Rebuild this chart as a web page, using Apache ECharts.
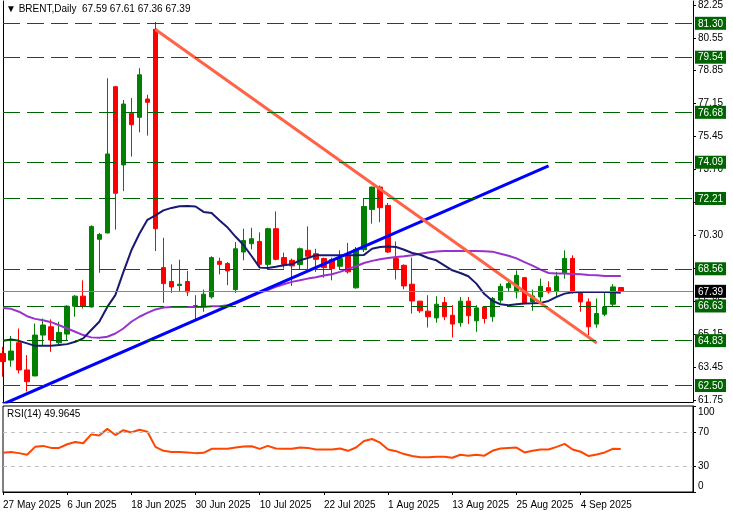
<!DOCTYPE html>
<html><head><meta charset="utf-8">
<script src="https://cdn.jsdelivr.net/npm/echarts@6/dist/echarts.min.js"></script>
<style>html,body{margin:0;padding:0;background:#fff}#c{width:733px;height:514px}</style>
</head><body><div id="c"></div>
<script>
const dates = ['27 May 2025','28 May 2025','29 May 2025','30 May 2025',
'2 Jun 2025','3 Jun 2025','4 Jun 2025','5 Jun 2025','6 Jun 2025','9 Jun 2025','10 Jun 2025','11 Jun 2025','12 Jun 2025','13 Jun 2025','16 Jun 2025','17 Jun 2025','18 Jun 2025','19 Jun 2025','20 Jun 2025','23 Jun 2025','24 Jun 2025','25 Jun 2025','26 Jun 2025','27 Jun 2025','30 Jun 2025',
'1 Jul 2025','2 Jul 2025','3 Jul 2025','4 Jul 2025','7 Jul 2025','8 Jul 2025','9 Jul 2025','10 Jul 2025','11 Jul 2025','14 Jul 2025','15 Jul 2025','16 Jul 2025','17 Jul 2025','18 Jul 2025','21 Jul 2025','22 Jul 2025','23 Jul 2025','24 Jul 2025','25 Jul 2025','28 Jul 2025','29 Jul 2025','30 Jul 2025','31 Jul 2025',
'1 Aug 2025','4 Aug 2025','5 Aug 2025','6 Aug 2025','7 Aug 2025','8 Aug 2025','11 Aug 2025','12 Aug 2025','13 Aug 2025','14 Aug 2025','15 Aug 2025','18 Aug 2025','19 Aug 2025','20 Aug 2025','21 Aug 2025','22 Aug 2025','25 Aug 2025','26 Aug 2025','27 Aug 2025','28 Aug 2025','29 Aug 2025',
'1 Sep 2025','2 Sep 2025','3 Sep 2025','4 Sep 2025','5 Sep 2025','8 Sep 2025','9 Sep 2025','10 Sep 2025','11 Sep 2025'];

const opens = [64.17,63.82,64.72,63.31,63.00,65.12,65.55,64.72,65.17,66.62,
67.14,66.58,70.09,70.42,78.01,73.95,76.63,76.42,77.37,80.99,
68.62,67.90,67.69,67.90,66.58,66.58,67.10,68.95,68.83,67.48,
69.43,69.86,69.98,68.79,70.64,69.14,69.00,68.78,69.52,69.34,
69.09,69.03,68.69,69.21,67.57,69.55,71.64,72.80,71.85,69.09,
68.74,67.76,66.88,66.36,66.01,66.81,66.15,65.76,66.88,65.86,
66.58,66.07,66.93,67.57,67.36,68.10,66.84,67.10,67.58,67.39,
68.31,69.10,67.36,66.84,65.69,66.20,66.72,67.59];
const closes = [63.74,64.29,63.31,62.70,65.12,65.64,64.86,65.26,66.62,67.14,
66.62,70.76,70.34,74.52,72.48,77.11,76.04,78.63,77.20,70.64,
67.79,67.62,67.76,67.36,66.65,67.24,69.14,68.79,68.45,69.60,
70.03,70.12,68.79,70.64,69.05,68.79,68.71,69.60,69.21,69.05,
68.62,68.57,69.09,68.40,69.57,71.79,72.80,71.73,69.43,68.57,
67.67,66.89,66.38,66.07,66.72,66.07,65.69,66.88,66.12,66.53,
65.98,67.02,67.65,67.79,68.22,66.79,67.15,67.65,67.36,68.17,
69.10,67.36,66.84,65.55,66.24,66.58,67.62,67.39];
const highs = [64.51,65.07,65.46,64.08,65.72,65.98,65.93,65.81,66.67,67.19,
67.96,70.81,70.42,78.45,78.05,77.32,77.42,78.97,77.59,81.37,
70.17,68.79,69.03,68.45,67.19,67.48,69.21,69.14,68.91,69.95,
70.64,70.69,70.45,70.69,71.54,69.40,69.09,69.66,70.76,69.60,
69.14,69.14,69.52,69.90,69.69,72.19,72.83,72.88,71.98,69.98,
68.79,69.14,66.90,67.19,67.14,67.10,66.67,67.10,67.10,66.67,
66.60,67.10,67.79,67.88,68.48,68.14,67.48,68.05,67.91,68.40,
69.52,69.26,67.38,67.02,67.02,67.36,67.76,67.61];
const lows = [62.96,63.48,63.13,62.19,62.98,64.60,64.25,64.60,64.86,66.07,
66.50,66.55,68.35,70.40,70.59,72.59,74.38,75.64,75.47,69.48,
66.79,67.31,67.36,67.14,65.93,66.33,67.01,68.27,67.71,67.31,
69.00,69.57,68.65,68.52,69.00,68.57,67.67,68.53,68.53,68.40,
68.10,67.96,68.52,68.31,67.53,69.43,70.90,70.98,69.38,68.00,
67.50,66.24,66.27,65.51,65.76,65.89,65.00,65.55,65.69,65.29,
65.72,65.81,66.79,67.36,67.02,66.72,66.38,66.84,67.27,67.10,
68.05,67.27,66.33,65.12,65.50,66.10,66.58,67.36];
const maFast = [64.82,64.89,64.82,64.69,64.56,64.56,64.56,64.60,64.65,64.77,
64.95,65.38,65.81,66.58,67.19,68.39,69.52,70.38,71.10,71.33,
71.59,71.72,71.80,71.82,71.79,71.51,71.45,71.07,70.70,70.22,
69.78,69.21,68.62,68.60,68.66,68.74,68.79,69.00,69.12,69.26,
69.26,69.26,69.26,69.26,69.26,69.28,69.60,69.69,69.72,69.69,
69.55,69.38,69.29,69.12,69.00,68.74,68.48,68.34,68.17,67.79,
67.25,66.90,66.72,66.67,66.72,66.76,66.77,66.79,66.89,67.10,
67.27,67.34,67.36,67.36,67.36,67.36,67.34,67.31];
const maSlow = [66.53,66.48,66.33,66.10,65.96,65.89,65.79,65.63,65.46,65.29,
65.12,65.00,64.98,65.03,65.20,65.46,65.81,66.07,66.27,66.45,
66.55,66.58,66.58,66.58,66.58,66.58,66.62,66.62,66.67,66.76,
66.93,67.13,67.31,67.45,67.62,67.76,67.88,67.96,68.05,68.12,
68.21,68.28,68.40,68.55,68.69,68.86,68.97,69.05,69.12,69.17,
69.21,69.26,69.34,69.41,69.46,69.48,69.48,69.48,69.48,69.48,
69.47,69.45,69.34,69.24,69.10,68.91,68.72,68.52,68.34,68.31,
68.31,68.29,68.27,68.24,68.22,68.19,68.19,68.19];
const rsi = [45.6,46.4,45.2,43.3,52.5,53.6,51.3,51.3,55.5,58.2,
56.7,67.0,65.8,73.4,66.2,71.9,69.2,72.3,70.0,52.5,
47.9,46.4,46.4,46.0,45.2,45.6,50.2,50.2,50.2,51.7,
52.9,53.2,50.2,53.6,50.6,50.2,50.2,51.7,51.3,49.4,
49.4,49.4,50.6,47.9,51.7,59.3,61.6,57.4,49.4,47.5,
44.1,41.8,40.3,40.3,41.0,41.0,39.9,43.3,42.2,43.3,
42.2,47.9,50.6,51.3,51.7,46.0,47.9,49.4,49.4,52.5,
55.9,49.4,46.8,41.8,43.7,46.0,50.2,49.9645];
const levels = [81.30,79.54,76.68,74.09,72.21,68.56,66.63,64.83,62.50];
const priceTicks = [82.25,80.55,78.85,77.15,75.45,73.70,72.00,70.30,68.60,66.85,65.15,63.45,61.75];
const rsiTicks = [0,30,70,100];
const rsiLevels = [70,30];
const upTrend = [[0,61.53],[68,73.90]];
const downTrend = [[19,80.98],[74,64.71]];
const futureSlots = 9;

const FONT = 'Liberation Sans, Arial, sans-serif';
const cats = dates.concat(new Array(futureSlots).fill(''));
const n = dates.length;
const last = n - 1;
const lastClose = closes[last];
const candles = opens.map((o, i) => [o, closes[i], lows[i], highs[i]]);
const showIdx = (i) => i % 8 === 0 && i < n;
const PMIN = 61.646, PMAX = 82.457;

const chart = echarts.init(document.getElementById('c'), null, {renderer: 'canvas'});
chart.setOption({
  animation: false,
  backgroundColor: '#fff',
  textStyle: {fontFamily: FONT},
  title: [
    {left: 6, top: 4, padding: 0,
     text: '▼ BRENT,Daily  ' + [opens[last], highs[last], lows[last], closes[last]].map(v => v.toFixed(2)).join(' '),
     textStyle: {fontSize: 10, fontWeight: 'normal', color: '#000', fontFamily: FONT}},
    {left: 7, top: 409, padding: 0,
     text: 'RSI(14) ' + rsi[last].toFixed(4),
     textStyle: {fontSize: 10, fontWeight: 'normal', color: '#000', fontFamily: FONT}}
  ],
  grid: [
    {left: 3, width: 690, top: 0, height: 402, show: false},
    {left: 3, width: 690, top: 406, height: 86, show: true, borderColor: '#000', borderWidth: 1, backgroundColor: 'transparent'}
  ],
  xAxis: [
    {gridIndex: 0, type: 'category', data: cats, boundaryGap: false,
     axisLine: {show: true, lineStyle: {color: '#000', width: 1}}, axisTick: {show: false},
     axisLabel: {show: false}, splitLine: {show: false}},
    {gridIndex: 1, type: 'category', data: cats, boundaryGap: false,
     axisLine: {show: true, lineStyle: {color: '#000', width: 1}},
     axisTick: {show: true, interval: showIdx, length: 3, lineStyle: {color: '#000'}},
     axisLabel: {interval: showIdx, align: 'left', margin: 8, fontSize: 10, color: '#000', fontFamily: FONT},
     splitLine: {show: false}}
  ],
  yAxis: [
    {gridIndex: 0, type: 'value', position: 'right', min: PMIN, max: PMAX, scale: true,
     axisLine: {show: true, lineStyle: {color: '#000'}},
     axisTick: {show: true, length: 3, customValues: priceTicks, lineStyle: {color: '#000'}},
     axisLabel: {customValues: priceTicks, formatter: v => v.toFixed(2), margin: 5, fontSize: 10, color: '#000', fontFamily: FONT},
     splitLine: {show: false}},
    {gridIndex: 0, type: 'value', position: 'right', min: PMIN, max: PMAX, scale: true, z: 5,
     axisLine: {show: false}, axisTick: {show: false}, splitLine: {show: false},
     axisLabel: {customValues: levels.concat([lastClose]), margin: 2, fontSize: 10, fontFamily: FONT,
       formatter: v => (v === lastClose ? '{k|' : '{g|') + v.toFixed(2) + '}',
       rich: {
         g: {backgroundColor: '#006400', color: '#fff', padding: [2, 3, 1, 3], fontSize: 10, lineHeight: 11, fontFamily: FONT},
         k: {backgroundColor: '#000', color: '#fff', padding: [2, 3, 1, 3], fontSize: 10, lineHeight: 11, fontFamily: FONT}
       }}},
    {gridIndex: 0, type: 'value', position: 'left', min: PMIN, max: PMAX, scale: true,
     axisLine: {show: true, lineStyle: {color: '#000'}}, axisTick: {show: false},
     axisLabel: {show: false}, splitLine: {show: false}},
    {gridIndex: 1, type: 'value', position: 'right', min: 0, max: 100,
     axisLine: {show: true, lineStyle: {color: '#000'}},
     axisTick: {show: true, length: 3, customValues: rsiTicks, lineStyle: {color: '#000'}},
     axisLabel: {customValues: rsiTicks, margin: 5, fontSize: 10, color: '#000', fontFamily: FONT,
       formatter: v => v === 100 ? '{a|100}' : (v === 0 ? '{b|0}' : '{c|' + v + '}'),
       rich: {a: {padding: [12, 0, 0, 0], lineHeight: 12}, b: {padding: [0, 0, 12, 0], lineHeight: 12}, c: {lineHeight: 12}}},
     splitLine: {show: false}}
  ],
  series: [
    {type: 'line', name: 'levels', xAxisIndex: 0, yAxisIndex: 0, data: [], z: 1,
     markLine: {silent: true, symbol: ['none', 'none'], label: {show: false}, animation: false,
       data: levels.map(v => ({yAxis: v, lineStyle: {color: '#006400', type: [17, 7], width: 1}}))
         .concat([{yAxis: lastClose, lineStyle: {color: '#7d8896', type: 'solid', width: 1}}])}},
    {type: 'candlestick', name: 'BRENT', xAxisIndex: 0, yAxisIndex: 0, data: candles, barWidth: 5, z: 2,
     itemStyle: {color: '#008000', color0: '#ff0000', borderColor: '#008000', borderColor0: '#ff0000', borderWidth: 1}},
    {type: 'line', name: 'MA slow', xAxisIndex: 0, yAxisIndex: 0, data: maSlow, showSymbol: false, z: 3,
     lineStyle: {color: '#9932CC', width: 2}},
    {type: 'line', name: 'MA fast', xAxisIndex: 0, yAxisIndex: 0, data: maFast, showSymbol: false, z: 3,
     lineStyle: {color: '#191970', width: 2}},
    {type: 'line', name: 'up trend', xAxisIndex: 0, yAxisIndex: 0, data: upTrend, showSymbol: false, z: 4,
     lineStyle: {color: '#0000ff', width: 3}},
    {type: 'line', name: 'down trend', xAxisIndex: 0, yAxisIndex: 0, data: downTrend, showSymbol: false, z: 4,
     lineStyle: {color: '#ff6347', width: 3}},
    {type: 'line', name: 'RSI', xAxisIndex: 1, yAxisIndex: 3, data: rsi, showSymbol: false, z: 3,
     lineStyle: {color: '#ff4500', width: 2},
     markLine: {silent: true, symbol: ['none', 'none'], label: {show: false}, animation: false,
       data: rsiLevels.map(v => ({yAxis: v, lineStyle: {color: '#c0c0c0', type: [4, 4], width: 1}}))}}
  ]
});
</script>
</body></html>
